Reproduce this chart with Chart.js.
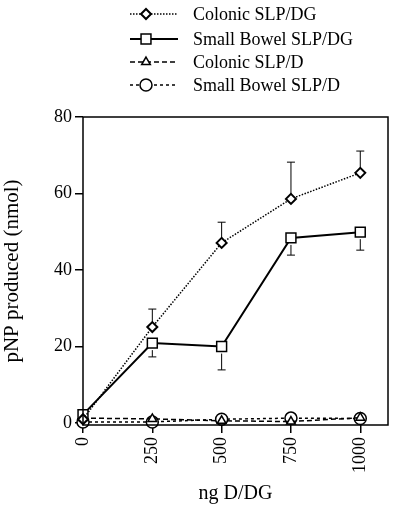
<!DOCTYPE html>
<html>
<head>
<meta charset="utf-8">
<script src="https://cdn.jsdelivr.net/npm/chart.js@4.4.0/dist/chart.umd.min.js"></script>
<style>
  html, body { margin: 0; padding: 0; background: #fff; }
  #wrap { width: 400px; height: 514px; position: relative; }
</style>
</head>
<body>
<div id="wrap"><canvas id="myChart"></canvas></div>
<script>
// values
var doses = [0, 250, 500, 750, 1000];
var xTicks = [0, 250, 500, 750, 1000];
var yTicks = [0, 20, 40, 60, 80];

var colonicDG = [1.0, 25.1, 47.1, 58.6, 65.4];
var colonicDGErrUp = [0, 4.7, 5.4, 9.6, 5.7];

var smallDG = [2.2, 20.9, 20.0, 48.4, 49.9];
var smallDGErrDown = [0, 3.6, 6.1, 4.5, 4.7];

var colonicD = [1.3, 1.1, 0.6, 0.4, 1.4];
var smallD = [0.3, 0.3, 1.0, 1.3, 1.2];

var serif = '"Liberation Serif", "Times New Roman", serif';

function pts(values){
    return doses.map((d, i) => ({x: d, y: values[i]}));
}

// error bars: whiskers only in one direction, like the print
var errorBars = {
    id: 'errorBars',
    afterDatasetsDraw(chart){
        var ctx = chart.ctx;
        var xs = chart.scales.x, ys = chart.scales.y;
        ctx.save();
        ctx.strokeStyle = '#000';
        ctx.lineWidth = 1;
        function bar(vals, errs, dir, offset){
            for(let i=0; i<vals.length; i++){
                if(!errs[i]) continue;
                var px = xs.getPixelForValue(doses[i]);
                var from = ys.getPixelForValue(vals[i]) + dir * offset;
                var to = ys.getPixelForValue(vals[i] + dir * -errs[i]);
                ctx.beginPath();
                ctx.moveTo(px, from);
                ctx.lineTo(px, to);
                ctx.moveTo(px - 4, to);
                ctx.lineTo(px + 4, to);
                ctx.stroke();
            }
        }
        bar(colonicDG, colonicDGErrUp, -1, 5);
        bar(smallDG, smallDGErrDown, 1, 7);
        ctx.restore();
    }
};

// box round the plot + legend at the top
var frameAndLegend = {
    id: 'frameAndLegend',
    afterDraw(chart){
        var ctx = chart.ctx;
        var a = chart.chartArea;
        ctx.save();
        ctx.strokeStyle = '#000';
        ctx.lineWidth = 1.5;
        ctx.strokeRect(a.left, a.top, a.right - a.left, a.bottom - a.top);

        var rows = [14, 39, 62, 85];
        chart.data.datasets.forEach(function(ds, i){
            var y = rows[i];
            ctx.save();
            ctx.strokeStyle = '#000';
            ctx.lineWidth = ds.borderWidth;
            ctx.setLineDash(ds.borderDash || []);
            ctx.beginPath();
            ctx.moveTo(130, y);
            ctx.lineTo(178, y);
            ctx.stroke();
            ctx.restore();
            ctx.save();
            ctx.fillStyle = '#fff';
            ctx.strokeStyle = '#000';
            ctx.lineWidth = ds.pointBorderWidth;
            Chart.helpers.drawPoint(ctx, {
                pointStyle: ds.pointStyle,
                radius: ds.pointRadius,
                borderWidth: ds.pointBorderWidth
            }, 146, y);
            ctx.restore();
            ctx.fillStyle = '#000';
            ctx.font = '18px ' + serif;
            ctx.textBaseline = 'middle';
            ctx.fillText(ds.label, 193, y + 1);
        });
        ctx.restore();
    }
};

var ctx = document.getElementById('myChart').getContext('2d');
var myChart = new Chart(ctx, {
    type: 'line',
    data: {
        datasets: [
            {
                label: 'Colonic SLP/DG',
                data: pts(colonicDG),
                borderColor: '#000',
                borderWidth: 1.5,
                borderDash: [1.5, 1.5],
                pointStyle: 'rectRot',
                pointRadius: 5,
                pointBorderWidth: 2,
                pointBackgroundColor: '#fff',
                pointBorderColor: '#000'
            },
            {
                label: 'Small Bowel SLP/DG',
                data: pts(smallDG),
                borderColor: '#000',
                borderWidth: 2,
                pointStyle: 'rect',
                pointRadius: 7,
                pointBorderWidth: 1.5,
                pointBackgroundColor: '#fff',
                pointBorderColor: '#000'
            },
            {
                label: 'Colonic SLP/D',
                data: pts(colonicD),
                borderColor: '#000',
                borderWidth: 1.5,
                borderDash: [5, 3],
                pointStyle: 'triangle',
                pointRadius: 5,
                pointBorderWidth: 1.5,
                pointBackgroundColor: '#fff',
                pointBorderColor: '#000'
            },
            {
                label: 'Small Bowel SLP/D',
                data: pts(smallD),
                borderColor: '#000',
                borderWidth: 1.5,
                borderDash: [3, 3],
                pointStyle: 'circle',
                pointRadius: 6,
                pointBorderWidth: 1.5,
                pointBackgroundColor: '#fff',
                pointBorderColor: '#000'
            }
        ]
    },
    options: {
        responsive: true,
        maintainAspectRatio: false,
        animation: false,
        clip: false,
        layout: { padding: { top: 117, right: 12, left: 0, bottom: 0 } },
        plugins: {
            legend: { display: false },
            tooltip: { enabled: false }
        },
        scales: {
            x: {
                type: 'linear',
                min: 0,
                max: 1100,
                afterBuildTicks: function(s){ s.ticks = xTicks.map(v => ({value: v})); },
                afterFit: function(s){ s.height = 89; },
                border: { display: false },
                grid: { drawOnChartArea: false, tickLength: 8, color: '#000', lineWidth: 1.5 },
                ticks: {
                    color: '#000',
                    minRotation: 90,
                    maxRotation: 90,
                    padding: 4,
                    callback: function(v){ return String(v); },
                    font: { family: serif, size: 18 }
                },
                title: {
                    display: true,
                    text: 'ng D/DG',
                    color: '#000',
                    font: { family: serif, size: 20 },
                    padding: { top: 12, bottom: 8 }
                }
            },
            y: {
                min: -0.5,
                max: 80,
                afterBuildTicks: function(s){ s.ticks = yTicks.map(v => ({value: v})); },
                afterFit: function(s){ s.width = 83; },
                border: { display: false },
                grid: { drawOnChartArea: false, tickLength: 8, color: '#000', lineWidth: 1.5 },
                ticks: {
                    color: '#000',
                    padding: 3,
                    font: { family: serif, size: 18 }
                },
                title: {
                    display: true,
                    text: 'pNP produced (nmol)',
                    color: '#000',
                    font: { family: serif, size: 21 },
                    padding: { top: 0, bottom: 4 }
                }
            }
        }
    },
    plugins: [errorBars, frameAndLegend]
});
</script>
</body>
</html>
